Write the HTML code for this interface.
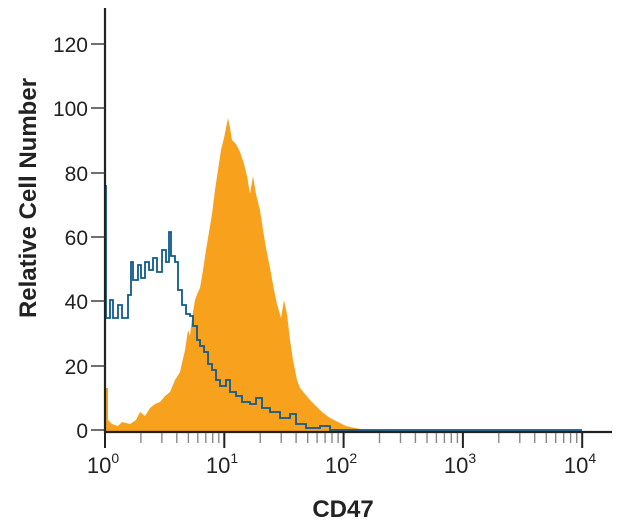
<!DOCTYPE html>
<html><head><style>body{margin:0;background:#fff}svg{display:block}text{font-family:"Liberation Sans",sans-serif}</style></head><body>
<svg width="622" height="529" viewBox="0 0 622 529">
<polygon fill="#f7a11d" points="105,432 105,388 108,388 108,420 112,424 118,426 122,422 130,424 136,420 140,412 145,416 150,408 155,404 160,402 165,396 170,392 175,380 180,372 185,350 188,330 190,336 192,318 195,300 198,292 200,288 203,270 206,250 209,232 212,214 215,190 218,170 221,150 224,138 226,128 228,118 230,128 232,140 236,144 240,152 244,164 247,176 250,194 253,176 256,194 260,210 263,230 266,248 270,268 274,290 277,304 281,318 284,300 287,314 290,340 293,360 297,380 300,388 305,394 310,400 316,406 322,412 330,418 338,422 346,426 355,428 365,430 380,431 582,431 582,432"/>
<polyline fill="none" stroke="#0f5a8c" stroke-width="1.8" points="106,185 106,318 110,318 110,300 113,300 113,318 118,318 118,305 122,305 122,318 128,318 128,295 131,295 131,262 133,262 133,280 138,280 138,265 141,265 141,278 145,278 145,262 149,262 149,270 153,270 153,258 157,258 157,272 162,272 162,250 166,250 166,262 169,262 169,232 171,232 171,256 175,256 175,262 178,262 178,290 182,290 182,305 186,305 186,314 190,314 190,316 193,316 193,326 197,326 197,340 200,340 200,346 204,346 204,352 208,352 208,364 212,364 212,370 216,370 216,380 220,380 220,386 226,386 226,380 230,380 230,392 236,392 236,396 242,396 242,402 250,402 250,404 256,404 256,398 262,398 262,408 270,408 270,412 280,412 280,418 290,418 290,414 296,414 296,424 306,424 306,428 320,428 320,426 330,426 330,430 345,430 582,430"/>
<g stroke="#222" stroke-width="2.2" fill="none">
<line x1="105" y1="8" x2="105" y2="433"/>
<line x1="104" y1="432" x2="612" y2="432"/>
</g>
<g stroke="#333" stroke-width="1.4">
<line x1="91" y1="430" x2="105" y2="430"/><line x1="91" y1="366" x2="105" y2="366"/><line x1="91" y1="301" x2="105" y2="301"/><line x1="91" y1="237" x2="105" y2="237"/><line x1="91" y1="173" x2="105" y2="173"/><line x1="91" y1="108" x2="105" y2="108"/><line x1="91" y1="44" x2="105" y2="44"/>
</g>
<g id="ticks" stroke="#888" stroke-width="1.4"></g>
<g font-size="21" fill="#222" text-anchor="end">
<text x="88" y="438">0</text><text x="88" y="374">20</text><text x="88" y="309">40</text><text x="88" y="245">60</text><text x="88" y="181">80</text><text x="88" y="116">100</text><text x="88" y="52">120</text>
</g>
<g font-size="22" fill="#222" text-anchor="middle">
<text x="103" y="473">10<tspan font-size="14" dy="-10">0</tspan></text>
<text x="222" y="473">10<tspan font-size="14" dy="-10">1</tspan></text>
<text x="341" y="473">10<tspan font-size="14" dy="-10">2</tspan></text>
<text x="460" y="473">10<tspan font-size="14" dy="-10">3</tspan></text>
<text x="580" y="473">10<tspan font-size="14" dy="-10">4</tspan></text>
</g>
<text x="343" y="517" font-size="24" font-weight="bold" fill="#222" text-anchor="middle">CD47</text>
<text transform="translate(36,198) rotate(-90)" font-size="24" font-weight="bold" fill="#222" text-anchor="middle">Relative Cell Number</text>
</svg>
<script>
var g=document.getElementById('ticks'),s='';
for(var d=0;d<4;d++){for(var k=1;k<=10;k++){var x=105+119.3*(d+Math.log10(k));var major=(k==1||k==10);if(k==10&&d<3)continue;
s+='<line x1="'+x.toFixed(1)+'" y1="433" x2="'+x.toFixed(1)+'" y2="'+(major?448:443)+'" stroke="'+(major?'#222':'#888')+'" stroke-width="'+(major?2:1.4)+'"/>';}}
g.innerHTML=s;
</script>
</body></html>
